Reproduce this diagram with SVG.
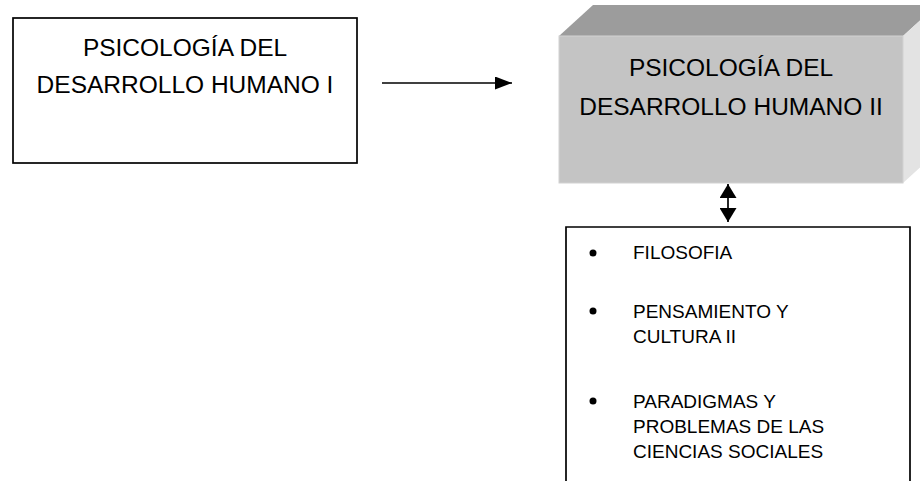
<svg xmlns="http://www.w3.org/2000/svg" width="920" height="481" viewBox="0 0 920 481">
<style>
.hdr{font-family:"Liberation Sans",Arial,sans-serif;font-size:24.5px;fill:#000;text-anchor:middle}
.item{font-family:"Liberation Sans",Arial,sans-serif;font-size:19px;fill:#000}
.box{fill:#fff;stroke:#000;stroke-width:1.7}
.conn{stroke:#000;stroke-width:1.7;fill:none}
</style>
<defs>
<marker id="ah" viewBox="0 0 10 10" refX="10" refY="5" markerWidth="17" markerHeight="13" markerUnits="userSpaceOnUse" orient="auto" preserveAspectRatio="none">
<path d="M0,0 L10,5 L0,10 Z" fill="#000"/>
</marker>
<marker id="dh" viewBox="0 0 10 10" refX="10" refY="5" markerWidth="14" markerHeight="17" markerUnits="userSpaceOnUse" orient="auto-start-reverse" preserveAspectRatio="none">
<path d="M0,0 L10,5 L0,10 Z" fill="#000"/>
</marker>
</defs>
<rect width="920" height="481" fill="#fff"/>
<g id="node-psico1">
<rect class="box" x="13" y="18" width="344" height="145"/>
<text class="hdr" x="185" y="56">PSICOLOGÍA DEL</text>
<text class="hdr" x="185" y="93">DESARROLLO HUMANO I</text>
</g>
<g id="node-psico2">
<polygon points="559,36 593,5 937,5 903,36" fill="#9c9c9c"/>
<polygon points="903,36 937,5 937,152 903,183" fill="#e3e3e3"/>
<rect x="559" y="36" width="344" height="147" fill="#c4c4c4" stroke="#d2d2d2" stroke-width="1"/>
<text class="hdr" x="731" y="76">PSICOLOGÍA DEL</text>
<text class="hdr" x="731" y="115">DESARROLLO HUMANO II</text>
</g>
<g id="node-list">
<path class="box" d="M566,483 V227 H910 V483"/>
<circle cx="593" cy="253" r="3.5"/>
<circle cx="593" cy="311" r="3.5"/>
<circle cx="593" cy="401" r="3.5"/>
<text class="item" x="633" y="259">FILOSOFIA</text>
<text class="item" x="633" y="318">PENSAMIENTO Y</text>
<text class="item" x="633" y="343">CULTURA II</text>
<text class="item" x="633" y="408">PARADIGMAS Y</text>
<text class="item" x="633" y="433">PROBLEMAS DE LAS</text>
<text class="item" x="633" y="458">CIENCIAS SOCIALES</text>
</g>
<g id="connectors">
<line class="conn" x1="382" y1="83" x2="512" y2="83" marker-end="url(#ah)"/>
<line class="conn" x1="728" y1="184" x2="728" y2="222" stroke-width="2" marker-start="url(#dh)" marker-end="url(#dh)"/>
</g>
</svg>
